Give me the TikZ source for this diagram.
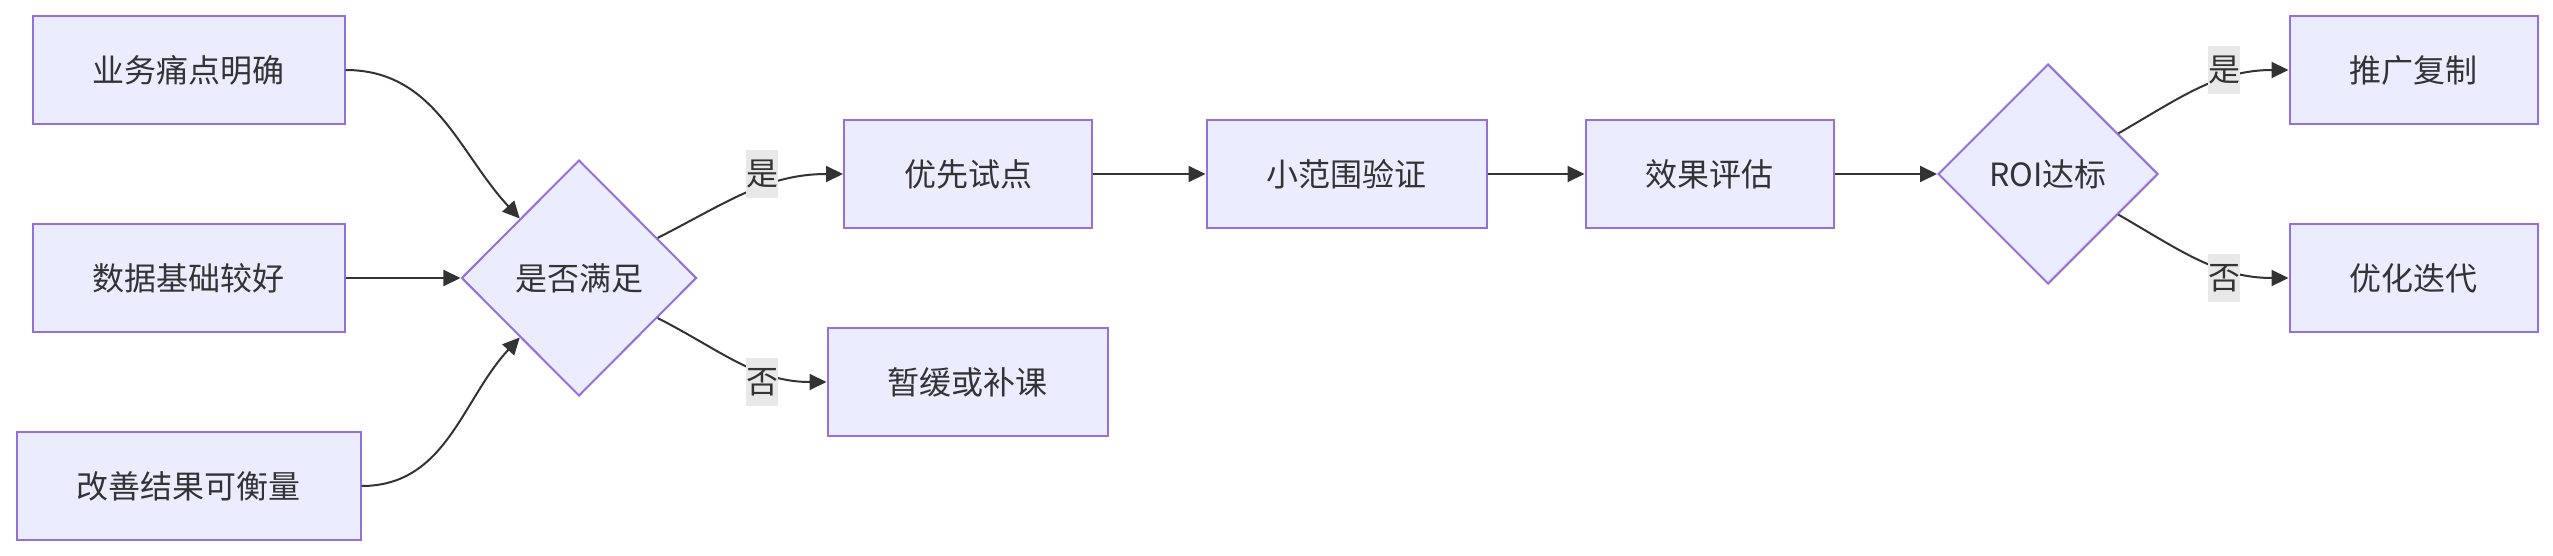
\documentclass[tikz,border=0pt]{standalone}
\usepackage{fontspec}
\usepackage{tikz}
\usetikzlibrary{arrows.meta,shapes.geometric}
\newfontfamily\cjk{Noto Sans CJK SC}
\definecolor{boxfill}{HTML}{ECECFF}
\definecolor{boxline}{HTML}{9370DB}
\definecolor{inkgray}{HTML}{333333}
\definecolor{tagfill}{HTML}{E8E8E8}

\begin{document}
\begin{tikzpicture}[x=0.5pt,y=-0.5pt,
  box/.style={draw=boxline,fill=boxfill,line width=1pt,text=inkgray,
    font=\cjk\fontsize{16pt}{24pt}\selectfont,
    minimum height=54pt,inner xsep=30pt,inner ysep=0pt},
  decision/.style={box,shape=diamond,aspect=1,inner sep=0pt},
  flow/.style={arrows={-Triangle[length=8.5pt,width=8pt]},color=inkgray,line width=1pt},
  tag/.style={fill=tagfill,text=inkgray,font=\cjk\fontsize{16pt}{24pt}\selectfont,
    inner sep=0pt,minimum height=24pt,minimum width=16pt}]
  \useasboundingbox (0,0) rectangle (2553,556);

  % condiciones
  \node[box] (pain) at (188.5,70) {业务痛点明确};
  \node[box] (data) at (188.5,278) {数据基础较好};
  \node[box] (measure) at (188.5,486) {改善结果可衡量};
  \node[decision,minimum width=117.5pt,minimum height=118pt] (check) at (579,278) {是否满足};

  % camino principal
  \node[box] (pilot) at (968,174) {优先试点};
  \node[box] (pause) at (967.5,382) {暂缓或补课};
  \node[box] (verify) at (1346.5,174) {小范围验证};
  \node[box] (assess) at (1709.5,174) {效果评估};
  \node[decision,minimum width=110pt,minimum height=110pt] (roi) at (2048,174) {ROI达标};
  \node[box] (scale) at (2413.5,70) {推广复制};
  \node[box] (iterate) at (2413.5,278) {优化迭代};

  \draw[flow] (pain) to[out=0,in=133] (check.north west);
  \draw[flow] (data) -- (check);
  \draw[flow] (measure) to[out=0,in=-133] (check.south west);

  \draw[flow] (check) to[out=27,in=180] (pilot);
  \draw[flow] (check) to[out=-27,in=180] (pause);

  \draw[flow] (pilot) -- (verify);
  \draw[flow] (verify) -- (assess);
  \draw[flow] (assess) -- (roi);

  \draw[flow] (roi) to[out=30,in=180] (scale);
  \draw[flow] (roi) to[out=-30,in=180] (iterate);

  % etiquetas
  \node[tag] (yes1) at (762,174) {是};
  \node[tag] (no1) at (762,382) {否};
  \node[tag] (yes2) at (2224,70) {是};
  \node[tag] (no2) at (2224,278) {否};
\end{tikzpicture}
\end{document}
